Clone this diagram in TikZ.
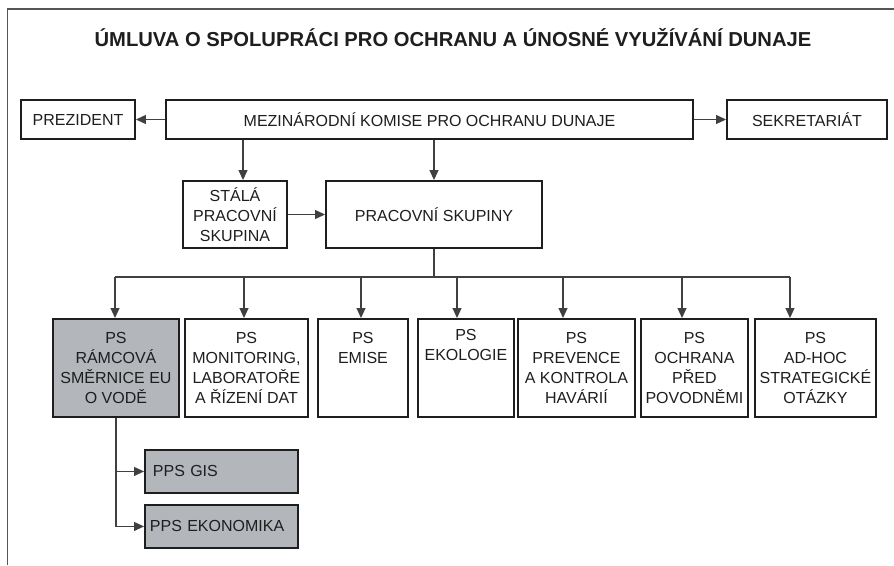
\documentclass[tikz,border=0pt]{standalone}
\usepackage{fontspec}
\setmainfont{Liberation Sans}
\usetikzlibrary{arrows.meta,calc}
\definecolor{boxgray}{HTML}{B3B6BB}
\definecolor{linegray}{HTML}{404040}
\definecolor{framegray}{HTML}{555555}
\definecolor{textdark}{HTML}{1E1E1E}
\newcommand\psblock[3]{\parbox[t][98pt][t]{#1}{\centering\vspace*{#2}#3\par}}
\begin{document}
\begin{tikzpicture}[x=1pt,y=-1pt,
  every node/.style={text=textdark, font=\fontsize{16pt}{20pt}\selectfont},
  orgbox/.style={draw=textdark, line width=1.9pt, fill=white, inner sep=0pt, align=center},
  graybox/.style={orgbox, fill=boxgray},
  subbox/.style={graybox, minimum height=43pt, text width=137pt, inner xsep=8pt, align=left},
  arr/.style={draw=linegray, line width=1.1pt, -{Triangle[length=10pt,width=9pt]}},
  conn/.style={draw=linegray, line width=1.1pt}]
\useasboundingbox (0,0) rectangle (894,565);
\draw[framegray, line width=1.5pt] (7.5,565) -- (7.5,9) -- (894,9);

\node (title) at (453,38) {\fontsize{20.2pt}{24pt}\selectfont\bfseries ÚMLUVA O SPOLUPRÁCI PRO OCHRANU A ÚNOSNÉ VYUŽÍVÁNÍ DUNAJE};

\node[orgbox, minimum width=114pt, minimum height=39pt] (pres) at (78,119.5) {PREZIDENT};
\node[orgbox, minimum width=527pt, minimum height=39pt] (mkd) at (429.5,119.5) {MEZINÁRODNÍ KOMISE PRO OCHRANU DUNAJE};
\node[orgbox, minimum width=160pt, minimum height=39pt] (sek) at (807,119.5) {SEKRETARIÁT};

\node[orgbox, minimum width=104pt, minimum height=67pt] (stala) at (235,214.5) {STÁLÁ\\PRACOVNÍ\\SKUPINA};
\node[orgbox, minimum width=216pt, minimum height=67pt] (prac) at (434,214.5) {PRACOVNÍ SKUPINY};

\node[graybox, anchor=north west] (b1) at (52,318) {\psblock{126pt}{13pt}{PS\\RÁMCOVÁ\\SMĚRNICE EU\\O VODĚ}};
\node[orgbox, anchor=north west] (b2) at (184,318) {\psblock{123pt}{13pt}{PS\\MONITORING,\\LABORATOŘE\\A ŘÍZENÍ DAT}};
\node[orgbox, anchor=north west] (b3) at (317,318) {\psblock{90pt}{13pt}{PS\\EMISE}};
\node[orgbox, anchor=north west] (b4) at (417,318) {\psblock{96pt}{10pt}{PS\\EKOLOGIE}};
\node[orgbox, anchor=north west] (b5) at (517,318) {\psblock{117pt}{13pt}{PS\\PREVENCE\\A KONTROLA\\HAVÁRIÍ}};
\node[orgbox, anchor=north west] (b6) at (640,318) {\psblock{107pt}{13pt}{PS\\OCHRANA\\PŘED\\POVODNĚMI}};
\node[orgbox, anchor=north west] (b7) at (754,318) {\psblock{121pt}{13pt}{PS\\AD-HOC\\STRATEGICKÉ\\OTÁZKY}};

\node[subbox, anchor=north west] (gis) at (144,449) {PPS GIS};
\node[subbox, anchor=north west, inner xsep=5pt, text width=143pt] (eko) at (144,504) {PPS EKONOMIKA};

% top connectors
\draw[arr] (mkd.west) -- (pres.east);
\draw[arr] (mkd.east) -- (sek.west);
\draw[arr] ([xshift=8pt]stala.north |- mkd.south) -- ([xshift=8pt]stala.north);
\draw[arr] (prac.north |- mkd.south) -- (prac.north);
\draw[arr] (stala.east) -- (prac.west);

% bus
\coordinate (t1) at (115,277);
\coordinate (t2) at (244,277);
\coordinate (t3) at (361,277);
\coordinate (t4) at (457,277);
\coordinate (t5) at (563,277);
\coordinate (t6) at (682,277);
\coordinate (t7) at (790,277);
\draw[conn] (prac.south) -- (prac.south |- t1);
\draw[conn] (t1) -- (t7);
\foreach \i in {1,...,7} {
  \draw[arr] (t\i) -- (t\i |- b\i.north);
}

% sub groups
\draw[arr] (b1.south) |- (eko.west);
\draw[arr] (b1.south |- gis.west) -- (gis.west);
\end{tikzpicture}
\end{document}
